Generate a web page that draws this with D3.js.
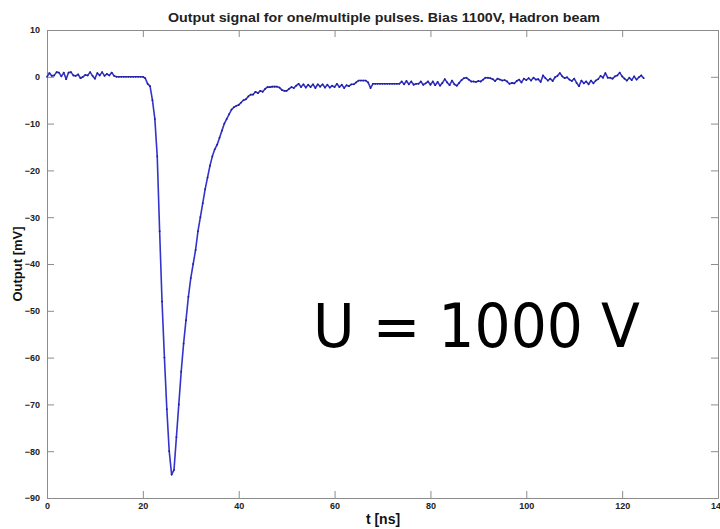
<!DOCTYPE html>
<html>
<head>
<meta charset="utf-8">
<script src="https://cdn.jsdelivr.net/npm/d3@7"></script>
<style>
  body { margin: 0; background: #fff; }
  svg { display: block; }
  .tick text { font-family: "Liberation Sans Narrow", "Liberation Sans", Arial, sans-serif; font-weight: bold; font-size: 9px; fill: #222; }
  .tick line, .domain { stroke: #8c8c8c; }
</style>
</head>
<body>
<svg id="chart" width="720" height="529"></svg>
<script>
// sample step of the scope trace, ns
const sampleStep = 0.5;

// Output [mV], one value per sample, starting at t = 0 ns
const outputMv = [
  0, 0.8, 0.2, 0.3, 1.0, 0.9, 0.1, 0.9, -0.5, 0.9,
  1.0, 0.3, 0.2, 0.5, -0.3, 0, 0.4, 0.3, 1.0, 0.2,
  -0.4, 0.8, 0.3, 1.0, 0.2, 0.6, 0.3, 0.9, 0.2, 0,
  0, 0, 0, 0, 0, 0, 0, 0, 0, 0,
  0, -0.3, -1.5, -2, -5, -9, -17, -33, -48, -60,
  -71, -80, -85, -84, -77, -70, -63, -57, -52, -47,
  -43, -40, -37, -33, -30, -27, -24, -21.5, -19, -17,
  -15.5, -14.5, -13, -11.5, -10, -9, -8, -7, -6.5, -6.2,
  -6, -5.5, -5, -4.8, -4.2, -3.8, -3.8, -3.2, -3.5, -3,
  -3.2, -2.6, -2.2, -2.2, -2.1, -2.1, -2.1, -2.3, -2.8, -3,
  -3, -2.6, -2.2, -2.4, -1.9, -1.5, -2.2, -1.6, -2.3, -1.7,
  -2.2, -1.6, -2.4, -1.6, -2.1, -1.6, -2.3, -1.7, -2.3, -1.9,
  -2.2, -1.5, -2.2, -1.7, -2.4, -1.8, -2, -1.6, -1.6, -1.2,
  -0.8, -0.8, -0.8, -0.8, -1.2, -2.4, -1.5, -1.5, -1.5, -1.5,
  -1.5, -1.5, -1.5, -1.5, -1.5, -1.5, -1.5, -1.5, -1.0, -1.6,
  -0.9, -1.6, -1.0, -1.7, -1.5, -1.5, -1.0, -1.7, -1.4, -1.0,
  -1.7, -1.0, -1.8, -1.1, -1.9, -1.3, -0.5, -1.2, -1.8, -0.8,
  -1.6, -1.9, -1.3, -0.7, -0.3, -0.2, -0.6, -1.0, -1.0, -1.1,
  -0.9, -1.0, -0.6, -0.2, -0.2, -0.3, -0.5, -0.9, -0.4, -0.6,
  -0.8, -0.7, -1.0, -1.5, -1.3, -1.4, -0.9, -0.6, -1.2, -0.4,
  -0.7, -0.3, -0.8, -0.2, -0.6, -0.5, -1.1, 0.3, -0.3, -0.8,
  -0.4, -0.9, -0.1, 0.2, 0.8, 0.1, -0.3, -0.1, -0.6, -0.9,
  -0.4, -1.3, -2.0, -0.8, -1.4, -1.0, -1.6, -0.8, -1.4, -0.8,
  -0.5, 0.2, -0.2, 0.8, -0.2, -0.2, -0.4, 0.1, 0.3, 0.9,
  0.1, -0.4, -0.8, -0.2, -0.7, 0.1, -0.6, -0.1, 0.3, -0.3
];

const xTicks = [0, 20, 40, 60, 80, 100, 120, 140];
const yTicks = [10, 0, -10, -20, -30, -40, -50, -60, -70, -80, -90];

const title = "Output signal for one/multiple pulses. Bias 1100V, Hadron beam";
const xLabel = "t [ns]";
const yLabel = "Output [mV]";
const note = "U = 1000 V";

const svg = d3.select("#chart");
const plotLeft = 47, plotRight = 718, plotTop = 30, plotBottom = 498;

const x = d3.scaleLinear().domain([0, 140]).range([plotLeft, plotRight]);
const y = d3.scaleLinear().domain([-90, 10]).range([plotBottom, plotTop]);

const points = outputMv.map((v, i) => ({ t: i * sampleStep, v }));

// box + ticks, matlab style (ticks point inward on all sides)
svg.append("g")
  .attr("transform", `translate(0,${plotBottom})`)
  .call(d3.axisBottom(x).tickValues(xTicks).tickSizeInner(-7).tickSizeOuter(0).tickPadding(3))
  .call(g => g.selectAll("text").attr("dy", "0.9em"));

svg.append("g")
  .attr("transform", `translate(0,${plotTop})`)
  .call(d3.axisTop(x).tickValues(xTicks).tickSizeInner(-7).tickSizeOuter(0).tickFormat(""));

svg.append("g")
  .attr("transform", `translate(${plotLeft},0)`)
  .call(d3.axisLeft(y).tickValues(yTicks).tickSizeInner(-7).tickSizeOuter(0).tickPadding(7));

svg.append("g")
  .attr("transform", `translate(${plotRight},0)`)
  .call(d3.axisRight(y).tickValues(yTicks).tickSizeInner(-7).tickSizeOuter(0).tickFormat(""));

// the trace
svg.append("path")
  .datum(points)
  .attr("fill", "none")
  .attr("stroke", "#3434cc")
  .attr("stroke-width", 1.6)
  .attr("stroke-linejoin", "round")
  .attr("d", d3.line().x(d => x(d.t)).y(d => y(d.v)));

svg.append("g")
  .selectAll("circle")
  .data(points)
  .enter()
  .append("circle")
  .attr("cx", d => x(d.t))
  .attr("cy", d => y(d.v))
  .attr("r", 0.9)
  .attr("fill", "#1e1e90");

// Labels
svg.append("text")
  .attr("x", 384).attr("y", 22)
  .attr("text-anchor", "middle")
  .attr("textLength", 432).attr("lengthAdjust", "spacingAndGlyphs")
  .style("font-family", "'Liberation Sans Narrow', 'Liberation Sans', Arial, sans-serif")
  .style("font-weight", "bold").style("font-size", "12px").style("fill", "#222")
  .text(title);

svg.append("text")
  .attr("x", 383).attr("y", 524)
  .attr("text-anchor", "middle")
  .style("font-family", "'Liberation Sans Narrow', 'Liberation Sans', Arial, sans-serif")
  .style("font-weight", "bold").style("font-size", "14px").style("fill", "#111")
  .text(xLabel);

svg.append("text")
  .attr("transform", "translate(22,264) rotate(-90)")
  .attr("text-anchor", "middle")
  .style("font-family", "'Liberation Sans Narrow', 'Liberation Sans', Arial, sans-serif")
  .style("font-weight", "bold").style("font-size", "13px").style("fill", "#111")
  .text(yLabel);

svg.append("text")
  .attr("x", 313).attr("y", 347)
  .attr("textLength", 327).attr("lengthAdjust", "spacingAndGlyphs")
  .style("font-family", "'DejaVu Sans', Verdana, sans-serif")
  .style("font-size", "61px").style("fill", "#000")
  .text(note);
</script>
</body>
</html>
